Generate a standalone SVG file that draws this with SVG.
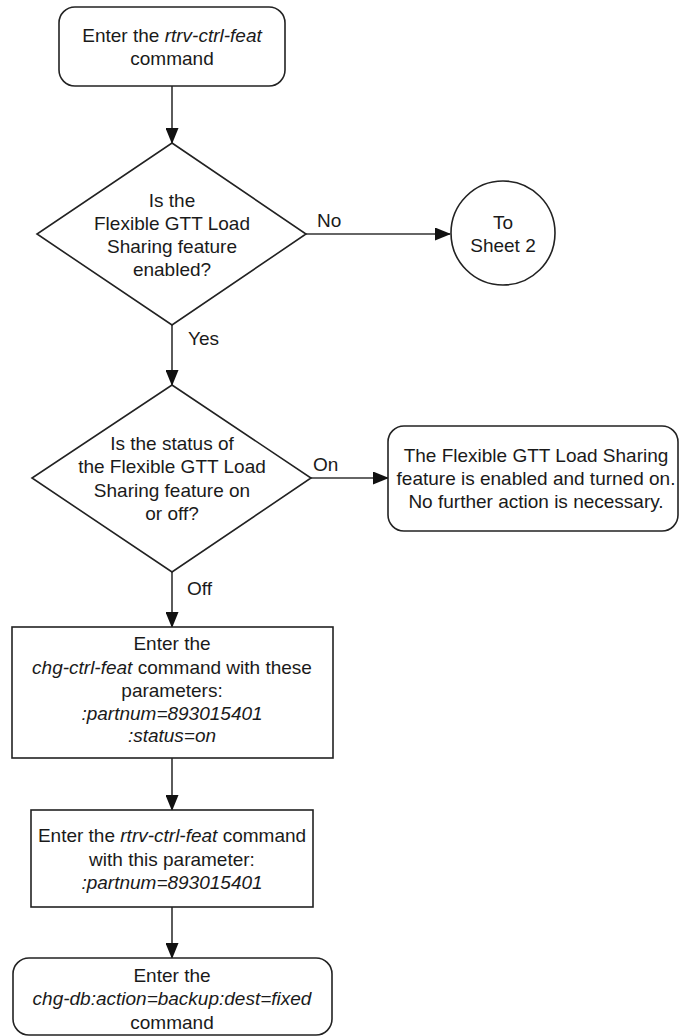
<svg xmlns="http://www.w3.org/2000/svg" width="681" height="1036" viewBox="0 0 681 1036">
<style>
.s{fill:#fff;stroke:#222;stroke-width:1.6}
.c{fill:none;stroke:#333;stroke-width:1.6}
text{font-family:"Liberation Sans",Arial,sans-serif;font-size:19px;fill:#1a1a1a;text-anchor:middle}
.l{text-anchor:start}
.i{font-style:italic}
</style>
<defs>
<marker id="ah" markerWidth="16" markerHeight="13" refX="15" refY="6.5" orient="auto" markerUnits="userSpaceOnUse">
<path d="M0,0 L16,6.5 L0,13 Z" fill="#111"/>
</marker>
</defs>
<g id="connectors">
<line class="c" x1="172" y1="86" x2="172" y2="143" marker-end="url(#ah)"/>
<line class="c" x1="306" y1="234" x2="450" y2="234" marker-end="url(#ah)"/>
<line class="c" x1="172" y1="325" x2="172" y2="385" marker-end="url(#ah)"/>
<line class="c" x1="311" y1="478" x2="388" y2="478" marker-end="url(#ah)"/>
<line class="c" x1="172" y1="572" x2="172" y2="627" marker-end="url(#ah)"/>
<line class="c" x1="172" y1="758" x2="172" y2="810" marker-end="url(#ah)"/>
<line class="c" x1="172" y1="907" x2="172" y2="958" marker-end="url(#ah)"/>
<text class="l" x="317" y="227">No</text>
<text class="l" x="188" y="345">Yes</text>
<text class="l" x="313" y="471">On</text>
<text class="l" x="187" y="595">Off</text>
</g>
<g id="start">
<rect class="s" x="59" y="7" width="226" height="79" rx="16"/>
<text x="172" y="42">Enter the <tspan class="i">rtrv-ctrl-feat</tspan></text>
<text x="172" y="65">command</text>
</g>
<g id="dec1">
<polygon class="s" points="172,143 306,234 172,325 37,234"/>
<text x="172" y="207">Is the</text>
<text x="172" y="230">Flexible GTT Load</text>
<text x="172" y="253">Sharing feature</text>
<text x="172" y="276">enabled?</text>
</g>
<g id="sheet2">
<circle class="s" cx="503" cy="233" r="52"/>
<text x="503" y="229">To</text>
<text x="503" y="252">Sheet 2</text>
</g>
<g id="dec2">
<polygon class="s" points="172,385 311,478 172,572 32,478"/>
<text x="172" y="450">Is the status of</text>
<text x="172" y="473">the Flexible GTT Load</text>
<text x="172" y="497">Sharing feature on</text>
<text x="172" y="520">or off?</text>
</g>
<g id="done">
<rect class="s" x="388" y="426" width="290" height="105" rx="16"/>
<text x="536" y="462">The Flexible GTT Load Sharing</text>
<text x="536" y="485">feature is enabled and turned on.</text>
<text x="536" y="508">No further action is necessary.</text>
</g>
<g id="chg">
<rect class="s" x="12" y="627" width="321" height="131"/>
<text x="172" y="650">Enter the</text>
<text x="172" y="674"><tspan class="i">chg-ctrl-feat</tspan> command with these</text>
<text x="172" y="697">parameters:</text>
<text x="172" y="720" class="i">:partnum=893015401</text>
<text x="172" y="742" class="i">:status=on</text>
</g>
<g id="rtrv">
<rect class="s" x="31" y="810" width="282" height="97"/>
<text x="172" y="842">Enter the <tspan class="i">rtrv-ctrl-feat</tspan> command</text>
<text x="172" y="866">with this parameter:</text>
<text x="172" y="889" class="i">:partnum=893015401</text>
</g>
<g id="backup">
<rect class="s" x="13" y="958" width="319" height="77" rx="16"/>
<text x="172" y="982">Enter the</text>
<text x="172" y="1005" class="i">chg-db:action=backup:dest=fixed</text>
<text x="172" y="1029">command</text>
</g>
</svg>
